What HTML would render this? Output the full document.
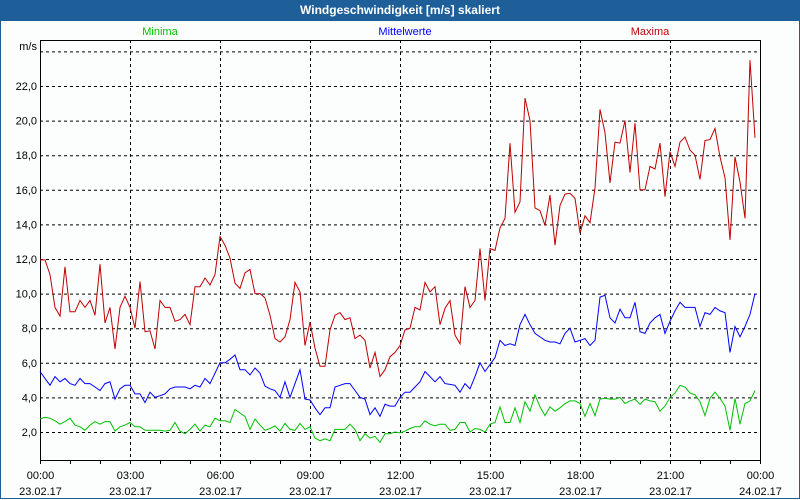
<!DOCTYPE html>
<html><head><meta charset="utf-8"><style>
body{margin:0;width:800px;height:500px;overflow:hidden;background:#fff;font-family:"Liberation Sans",sans-serif}
#frame{position:absolute;left:0;top:0;width:798px;height:498px;border:1px solid #1e5f99;border-top:none;background:#fcfefe}
#title{position:absolute;left:0;top:0;width:800px;height:21px;background:#1e5f99;color:#fff;font-weight:bold;font-size:12px;text-align:center;line-height:21px}
</style></head><body>
<div id="frame"></div>
<div id="title">Windgeschwindigkeit [m/s] skaliert</div>
<svg id="chart" width="800" height="500" style="position:absolute;left:0;top:0"></svg>
<script>
const xLabels=["00:00","03:00","06:00","09:00","12:00","15:00","18:00","21:00","00:00"];
const dateLabels=["23.02.17","23.02.17","23.02.17","23.02.17","23.02.17","23.02.17","23.02.17","23.02.17","24.02.17"];
const yTicks=[2,4,6,8,10,12,14,16,18,20,22,24];
const maxima=[11.95,11.95,11.1,9.2,8.7,11.55,8.95,8.95,9.6,9.2,9.6,8.75,11.7,8.3,9.2,6.8,9.2,9.85,9.2,8.0,10.7,7.8,7.85,6.8,9.6,9.2,9.2,8.4,8.5,8.8,8.2,10.4,10.4,10.9,10.5,11.1,13.3,12.8,12.05,10.6,10.3,11.2,11.4,10.0,10.0,9.75,8.75,7.4,7.2,7.5,8.5,10.65,10.1,7.0,8.35,6.85,5.8,5.8,7.9,8.75,8.9,8.5,8.6,7.4,7.6,7.3,5.7,6.6,5.2,5.6,6.35,6.6,7.0,7.9,8.0,9.2,9.05,10.65,10.1,10.4,8.2,9.15,9.6,7.6,7.1,10.4,9.2,9.6,12.6,9.6,12.6,12.5,13.8,14.35,18.7,14.7,15.3,21.3,20.0,14.95,14.8,13.95,15.7,12.8,15.1,15.75,15.8,15.5,13.5,14.5,14.1,16.1,20.65,19.3,16.4,18.75,18.7,20.0,17.0,19.85,16.0,16.0,17.35,17.2,18.7,15.6,18.2,17.35,18.75,19.05,18.3,18.0,16.6,18.85,18.9,19.55,17.9,16.7,13.1,17.9,16.45,14.35,23.5,19.0];
const mittel=[5.5,5.1,4.7,5.2,4.9,5.1,4.8,4.7,5.1,4.8,4.8,4.6,4.4,4.8,4.9,3.9,4.5,4.7,4.7,4.2,4.2,3.7,4.3,4.0,4.1,4.2,4.5,4.6,4.6,4.6,4.5,4.7,4.6,5.1,4.8,5.4,6.0,6.0,6.2,6.45,5.6,5.6,5.3,5.7,5.4,4.65,4.5,4.4,4.0,4.9,4.0,4.8,5.6,3.9,3.85,3.4,3.0,3.4,3.4,4.6,4.7,4.8,4.8,4.4,4.0,3.9,3.0,3.4,2.9,3.6,3.5,3.5,4.0,4.3,4.3,4.6,4.9,5.5,5.2,4.9,5.2,4.8,4.75,4.7,4.3,4.8,4.5,5.2,6.0,5.5,5.9,6.3,7.3,7.0,7.1,7.0,8.2,8.8,8.2,7.7,7.5,7.3,7.2,7.2,7.1,7.7,8.0,7.2,7.3,7.4,7.0,7.3,9.8,9.9,8.6,8.3,9.1,8.6,8.6,9.5,7.8,7.7,8.3,8.6,8.8,7.7,8.4,9.0,9.5,9.2,9.2,9.2,8.1,8.9,8.8,9.2,9.0,8.9,6.6,8.1,7.5,8.1,8.8,10.0];
const minima=[2.75,2.85,2.8,2.65,2.45,2.6,2.8,2.4,2.3,2.1,2.4,2.6,2.45,2.6,2.6,2.05,2.3,2.4,2.55,2.3,2.3,2.1,2.1,2.1,2.1,2.05,2.1,2.55,2.05,1.9,2.15,2.45,2.05,2.4,2.3,2.8,2.65,2.65,2.55,3.3,3.1,2.9,2.15,2.75,2.4,2.1,2.2,2.35,2.05,2.5,2.15,2.1,2.5,2.15,2.3,1.65,1.5,1.6,1.5,2.15,2.15,2.15,2.45,2.15,1.5,1.9,1.65,1.75,1.4,1.9,1.9,2.0,1.95,2.05,2.2,2.3,2.3,2.65,2.45,2.35,2.45,2.45,2.1,2.15,2.55,2.55,2.0,2.2,2.15,2.0,2.45,2.55,3.45,2.55,2.55,3.4,2.55,3.75,3.2,4.15,3.45,2.95,3.45,3.2,3.4,3.65,3.8,3.8,3.65,2.9,3.65,2.95,3.9,3.95,3.9,3.9,4.0,3.65,3.8,3.9,3.6,3.9,3.8,3.75,3.2,3.5,4.0,4.25,4.7,4.6,4.25,4.15,3.75,2.95,3.95,4.3,3.95,3.5,2.1,3.95,2.45,3.65,3.8,4.4];

const L=40,R=760,T=40,B=460;
const y=v=>466.6-v*17.3;
const x=i=>L+i*5; // 10-minute samples
const xh=h=>L+h*30;
const svg=document.getElementById('chart');
const NS='http://www.w3.org/2000/svg';
function mk(tag,at){const e=document.createElementNS(NS,tag);for(const k in at)e.setAttribute(k,at[k]);svg.appendChild(e);return e;}
// grid
yTicks.forEach(v=>{
  const g=mk('line',{x1:L,x2:R,y1:y(v)+0.5,y2:y(v)+0.5,stroke:'#000','stroke-dasharray':'3,3','stroke-width':1});
  
  
  if(v<24){const t=mk('text',{x:37,y:y(v)+4,'text-anchor':'end','font-size':11,fill:'#000'});t.textContent=v.toFixed(1).replace('.',',');
  
  }
});
for(let k=1;k<8;k++){
  const g=mk('line',{x1:xh(k*3)+0.5,x2:xh(k*3)+0.5,y1:T,y2:B,stroke:'#000','stroke-dasharray':'3,3','stroke-width':1});
  
  
}
const ax=mk('path',{d:`M${L+0.5},${B}V${T+0.5}H${R+0.5}V${B}`,fill:'none',stroke:'#000','stroke-width':1});


const bx=mk('line',{x1:L,x2:R+1,y1:B+0.5,y2:B+0.5,stroke:'#000'});


for(let h=0;h<=24;h++){const t=mk('line',{x1:xh(h)+0.5,x2:xh(h)+0.5,y1:B,y2:B+4,stroke:'#000'});
  
  }
xLabels.forEach((s,k)=>{
  const t=mk('text',{x:xh(k*3)+0.5,y:479,'text-anchor':'middle','font-size':11});t.textContent=s;
  
  
  const d=mk('text',{x:xh(k*3)+0.5,y:495,'text-anchor':'middle','font-size':11});d.textContent=dateLabels[k];
  
  
});
const u=mk('text',{x:37,y:50,'text-anchor':'end','font-size':11});u.textContent='m/s';


[[minima,'#00c000','minima-line'],[mittel,'#0000ff','mittelwerte-line'],[maxima,'#c00000','maxima-line']].forEach(([a,c,n])=>{
  const p=mk('polyline',{points:a.map((v,i)=>x(i)+','+y(v).toFixed(1)).join(' '),fill:'none',stroke:c,'stroke-width':1});
  
  
});
[['Minima',160,'#00c000'],['Mittelwerte',405,'#0000ff'],['Maxima',650,'#c00000']].forEach(([s,px,c])=>{
  const t=mk('text',{x:px,y:35,'text-anchor':'middle','font-size':11,fill:c});t.textContent=s;
  
  
});
</script>
</body></html>
